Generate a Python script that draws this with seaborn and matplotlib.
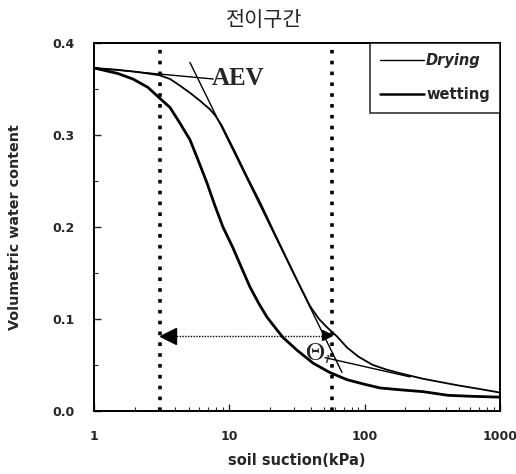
import numpy as np
import pandas as pd
import seaborn as sns
import matplotlib.pyplot as plt
import matplotlib.ticker as mticker

# data
drying_x = [1.0, 1.5, 2.0, 2.5, 3.07, 3.65, 4.3, 5.12, 6.0, 7.2, 7.9, 8.83, 10.0, 11.0, 13.5, 17.0, 20.7,
            26.7, 32.0, 39.5, 46.0, 52.7, 62.5, 74.1, 90.0, 115, 145, 183, 270, 482, 700, 1000]
drying_y = [0.373, 0.371, 0.369, 0.367, 0.365, 0.361, 0.354, 0.346, 0.338, 0.328, 0.321, 0.310, 0.294,
            0.282, 0.255, 0.226, 0.199, 0.165, 0.141, 0.114, 0.100, 0.091, 0.081, 0.069, 0.059, 0.050,
            0.045, 0.041, 0.035, 0.028, 0.024, 0.020]
wetting_x = [1.0, 1.5, 1.94, 2.5, 3.07, 3.65, 4.32, 5.12, 5.77, 6.84, 7.8, 8.98, 10.6, 12.3,
             14.2, 16.5, 19.0, 22.0, 24.9, 31.7, 41.6, 55.0, 74.1, 100, 130, 183, 270, 413, 600, 1000]
wetting_y = [0.373, 0.367, 0.361, 0.352, 0.340, 0.330, 0.313, 0.295, 0.276, 0.248, 0.224, 0.200,
             0.178, 0.156, 0.135, 0.117, 0.102, 0.090, 0.080, 0.066, 0.052, 0.042, 0.034, 0.029,
             0.025, 0.023, 0.021, 0.017, 0.016, 0.015]

tangent_top_x = [1.0, 7.6]
tangent_top_y = [0.373, 0.361]
tangent_steep_x = [5.12, 68.0]
tangent_steep_y = [0.379, 0.042]
tangent_res_x = [51.0, 217.0]
tangent_res_y = [0.058, 0.037]

aev_suction = 3.1
residual_suction = 57.0
residual_theta = 0.081

df = pd.concat([
    pd.DataFrame({'suction': drying_x, 'theta': drying_y, 'path': 'Drying'}),
    pd.DataFrame({'suction': wetting_x, 'theta': wetting_y, 'path': 'wetting'}),
])

sns.set_style('ticks')
plt.rcParams['font.family'] = ['DejaVu Sans']
plt.rcParams['mathtext.fontset'] = 'stix'

fig = plt.figure(figsize=(5.16, 4.74), dpi=100)
ax = fig.add_axes([0.182, 0.133, 0.787, 0.776])

sns.lineplot(data=df, x='suction', y='theta', hue='path', size='path',
             sizes={'Drying': 1.3, 'wetting': 2.0},
             palette={'Drying': 'black', 'wetting': 'black'}, ax=ax, legend=False)

ax.plot(tangent_top_x, tangent_top_y, color='black', lw=1.0)
ax.plot(tangent_steep_x, tangent_steep_y, color='black', lw=1.0)
ax.plot(tangent_res_x, tangent_res_y, color='black', lw=1.0)

ax.axvline(aev_suction, color='black', lw=2.6, ls=(0, (1, 2)))
ax.axvline(residual_suction, color='black', lw=2.6, ls=(0, (1, 2)))

ax.plot([3.5, residual_suction], [residual_theta, residual_theta], color='black', lw=1.0, ls=(0, (1, 1)))
ax.plot(3.55, residual_theta, marker='<', ms=11, color='black')
ax.plot(53.0, 0.083, marker='>', ms=7, color='black')

ax.text(7.4, 0.362, 'AEV', fontsize=18, fontweight='bold', family='Liberation Serif', va='center')
ax.text(36.0, 0.063, r'$\Theta_{r}$', fontsize=19, va='center')

ax.set_xscale('log')
ax.set_xlim(1, 1000)
ax.set_ylim(0, 0.4)
ax.yaxis.set_major_locator(mticker.MultipleLocator(0.1))
ax.yaxis.set_minor_locator(mticker.MultipleLocator(0.05))
ax.xaxis.set_major_formatter(mticker.FuncFormatter(lambda v, p: f'{v:g}'))
ax.yaxis.set_major_formatter(mticker.FormatStrFormatter('%.1f'))
ax.tick_params(which='both', direction='in', top=False, right=False)
ax.tick_params(which='major', length=5, width=1, labelsize=9, pad=14)
ax.tick_params(which='minor', length=3, width=0.8)
for lab in ax.get_xticklabels() + ax.get_yticklabels():
    lab.set_fontweight('bold')
for s in ax.spines.values():
    s.set_linewidth(1.4)
    s.set_color('black')

ax.set_xlabel('soil suction(kPa)', fontsize=10.5, fontweight='bold', labelpad=7)
ax.set_ylabel('Volumetric water content', fontsize=10.3, fontweight='bold', labelpad=22)

h1, = ax.plot([], [], color='black', lw=1.0)
h2, = ax.plot([], [], color='black', lw=1.8)
leg = ax.legend([h1, h2], ['Drying', 'wetting'], loc='upper right', borderaxespad=0,
                fancybox=False, frameon=True, handlelength=3.0, handletextpad=0.15,
                labelspacing=1.3, borderpad=0.7, prop={'weight': 'bold', 'size': 10.5})
leg.get_frame().set_edgecolor('black')
leg.get_frame().set_linewidth(1.2)
leg.get_texts()[0].set_style('italic')

fig.text(0.512, 0.957, '전이구간', ha='center', va='center', fontsize=15,
         family=['Noto Sans CJK KR', 'DejaVu Sans'])

fig.savefig('out.png', dpi=100)
